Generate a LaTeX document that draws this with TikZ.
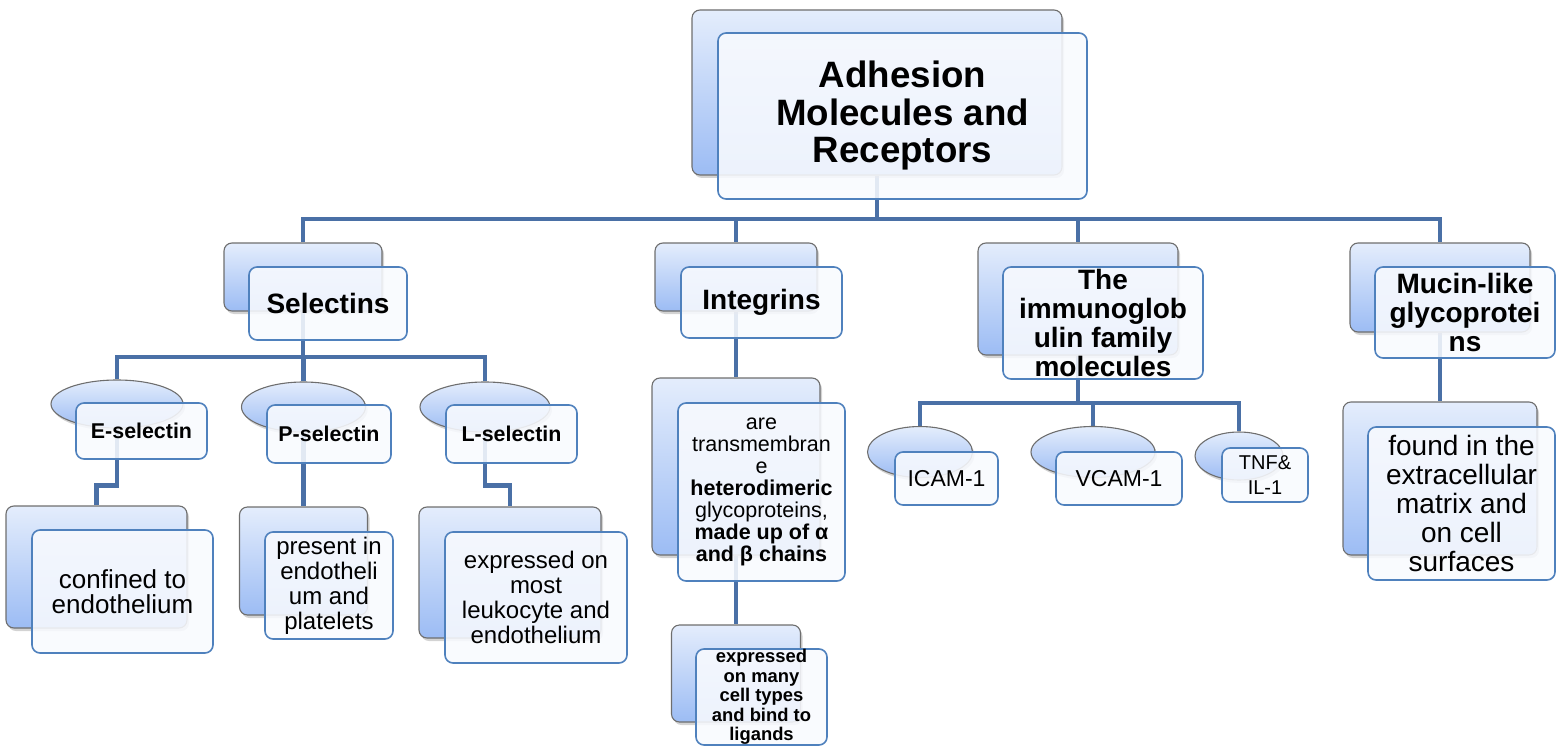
\documentclass[tikz,border=0pt]{standalone}
\usepackage{fontspec}
\setmainfont{Liberation Sans}
\usetikzlibrary{shapes.geometric,shadows}
\definecolor{connc}{HTML}{4A70A6}
\definecolor{fbord}{HTML}{4F81BD}
\definecolor{ffill}{HTML}{F8FAFE}
\definecolor{btop}{HTML}{E4EDFC}
\definecolor{bbot}{HTML}{9CBCF4}
\definecolor{bbord}{HTML}{6E6E6E}
\newcommand\fsz[2]{\fontsize{#1}{#2}\selectfont}
\newcommand\lvtwo{\fsz{28}{29}\bfseries}
\pgfdeclarelayer{bg}
\pgfsetlayers{bg,main}
\tikzset{
 backbox/.style={rectangle, rounded corners=8pt, draw=bbord, line width=1.1pt,
   top color=btop, bottom color=bbot, inner sep=0pt,
   drop shadow={shadow xshift=2pt, shadow yshift=-3pt, opacity=0.35}},
 frontbox/.style={rectangle, rounded corners=8pt, draw=fbord, line width=1.6pt,
   fill=ffill, fill opacity=0.88, text opacity=1, inner sep=0pt, align=center},
 oval/.style={ellipse, draw=bbord, line width=1.1pt, top color=btop, bottom color=bbot,
   inner sep=0pt, drop shadow={shadow xshift=2pt, shadow yshift=-3pt, opacity=0.35}},
 conn/.style={draw=connc, line width=4.5pt},
}
\begin{document}
\begin{tikzpicture}[x=1pt,y=-1pt]
\useasboundingbox (0,0) rectangle (1557,746);
% top
\node[backbox, minimum width=370, minimum height=165] (Tb) at (877,92.5) {};
\node[frontbox, minimum width=369, minimum height=166, font=\fsz{36.7}{37.5}\bfseries] (Tf) at (902.5,116) {Adhesion\\Molecules and\\Receptors};
% level 2
\node[backbox, minimum width=158, minimum height=68] (Sb) at (303,277) {};
\node[frontbox, minimum width=158, minimum height=73, font=\lvtwo] (Sf) at (328,303.5) {Selectins};
\node[backbox, minimum width=162, minimum height=68] (Ib) at (736,277) {};
\node[frontbox, minimum width=161, minimum height=71, font=\lvtwo] (If) at (761.5,302.5) {Integrins};
\node[backbox, minimum width=200, minimum height=112] (Gb) at (1078,299) {};
\node[frontbox, minimum width=200, minimum height=112, font=\lvtwo] (Gf) at (1103,323) {The\\immunoglob\\ulin family\\molecules};
\node[backbox, minimum width=180, minimum height=89] (Mb) at (1440,287.5) {};
\node[frontbox, minimum width=180, minimum height=91, font=\lvtwo] (Mf) at (1465,312.5) {Mucin-like\\glycoprotei\\ns};
% selectins children
\node[oval, minimum width=132, minimum height=48] (Ee) at (117,404) {};
\node[frontbox, minimum width=131, minimum height=56, font=\fsz{21.4}{22}\bfseries] (Ef) at (141.5,431) {E-selectin};
\node[oval, minimum width=124, minimum height=50] (Pe) at (303.5,407) {};
\node[frontbox, minimum width=124, minimum height=58, font=\fsz{21.4}{22}\bfseries] (Pf) at (329,434) {P-selectin};
\node[oval, minimum width=130, minimum height=50] (Le) at (485,407) {};
\node[frontbox, minimum width=131, minimum height=58, font=\fsz{21.4}{22}\bfseries] (Lf) at (511.5,434) {L-selectin};
\node[backbox, minimum width=181, minimum height=122] (Elb) at (96.5,567) {};
\node[frontbox, minimum width=181, minimum height=123, font=\fsz{26}{25}] (Elf) at (122.5,591.5) {confined to\\endothelium};
\node[backbox, minimum width=128, minimum height=108] (Plb) at (303.5,561) {};
\node[frontbox, minimum width=128, minimum height=107, font=\fsz{24}{25}] (Plf) at (329,585.5) {present in\\endotheli\\um and\\platelets};
\node[backbox, minimum width=182, minimum height=131] (Llb) at (510,572.5) {};
\node[frontbox, minimum width=182, minimum height=131, font=\fsz{24}{25}] (Llf) at (536,597.5) {expressed on\\most\\leukocyte and\\endothelium};
% integrins children
\node[backbox, minimum width=168, minimum height=177] (Imb) at (736,466.5) {};
\node[frontbox, minimum width=167, minimum height=178, font=\fsz{21.5}{22}] (Imf) at (761.5,492) {are\\transmembran\\e\\\textbf{heterodimeric}\\glycoproteins,\\\textbf{made up of α}\\\textbf{and β chains}};
\node[backbox, minimum width=129, minimum height=97] (Ilb) at (736,673.5) {};
\node[frontbox, minimum width=131, minimum height=96, font=\fsz{18.4}{19.5}\bfseries] (Ilf) at (761.5,697) {expressed\\on many\\cell types\\and bind to\\ligands};
% immunoglobulin children
\node[oval, minimum width=105, minimum height=51] (Ie) at (920,452) {};
\node[frontbox, minimum width=103, minimum height=53, font=\fsz{23}{25}] (Icf) at (946.5,478.5) {ICAM-1};
\node[oval, minimum width=124, minimum height=51] (Ve) at (1093,452) {};
\node[frontbox, minimum width=126, minimum height=53, font=\fsz{23}{25}] (Vf) at (1119,478.5) {VCAM-1};
\node[oval, minimum width=88, minimum height=48] (Te) at (1239,456) {};
\node[frontbox, minimum width=86, minimum height=54, font=\fsz{20}{25}] (Tnf) at (1265,475) {TNF\&\\IL-1};
% mucin child
\node[backbox, minimum width=194, minimum height=153] (Mlb) at (1440,478.5) {};
\node[frontbox, minimum width=187, minimum height=153, font=\fsz{28}{29}] (Mlf) at (1461.5,503.5) {found in the\\extracellular\\matrix and\\on cell\\surfaces};
% connectors
\begin{pgfonlayer}{bg}
\coordinate (bar1) at (877,219);
\draw[conn] (Tb.south) -- (bar1);
\draw[conn] (bar1) -| (Sb.north);
\draw[conn] (bar1) -| (Ib.north);
\draw[conn] (bar1) -| (Gb.north);
\draw[conn] (bar1) -| (Mb.north);
\coordinate (bar2) at (303,357);
\draw[conn] (Sb.south) -- (bar2);
\draw[conn] (bar2) -| (Ee.north);
\draw[conn] (bar2) -| (Pe.north);
\draw[conn] (bar2) -| (Le.north);
\draw[conn] (Ee.south) -- ++(0,57) -| (Elb.north);
\draw[conn] (Pe.south) -- (Plb.north);
\draw[conn] (Le.south) -- ++(0,53) -| (Llb.north);
\draw[conn] (Ib.south) -- (Imb.north);
\draw[conn] (Imb.south) -- (Ilb.north);
\coordinate (bar3) at (1078,403);
\draw[conn] (Gb.south) -- (bar3);
\draw[conn] (bar3) -| (Ie.north);
\draw[conn] (bar3) -| (Ve.north);
\draw[conn] (bar3) -| (Te.north);
\draw[conn] (Mb.south) -- (Mlb.north);
\end{pgfonlayer}
\end{tikzpicture}
\end{document}
